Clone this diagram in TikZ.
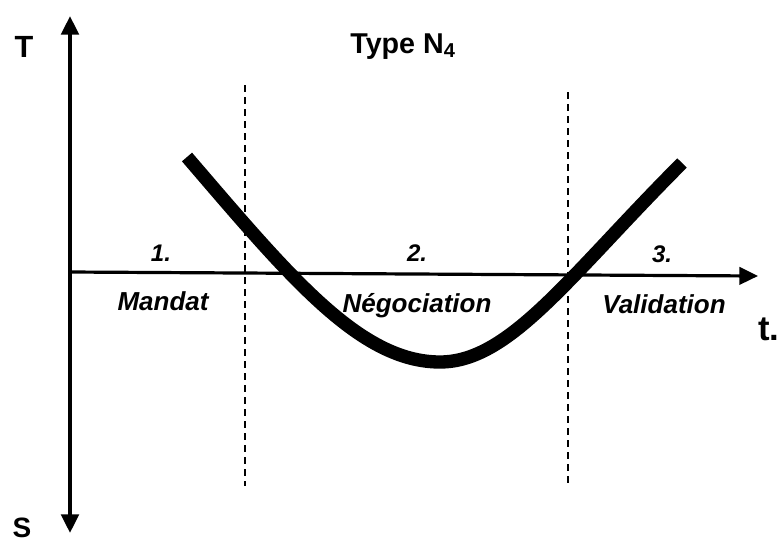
\documentclass[tikz,border=0pt]{standalone}
\usepackage{fontspec}
\setmainfont{Liberation Sans}
\usetikzlibrary{arrows.meta}
\begin{document}
\begin{tikzpicture}[x=0.75pt,y=-0.75pt,
  lbl/.style={font=\bfseries\fontsize{19}{22}\selectfont, inner sep=0pt, anchor=base},
  ilbl/.style={font=\bfseries\itshape\fontsize{19.5}{22}\selectfont, inner sep=0pt, anchor=base},
  num/.style={font=\bfseries\itshape\fontsize{18}{20}\selectfont, inner sep=0pt, anchor=base},
  axis/.style={line width=3pt, -{Triangle[length=14pt,width=13pt]}},
  divider/.style={line width=1.3pt, dash pattern=on 5pt off 4pt},
  curve/.style={line width=10pt}]
\useasboundingbox (0,0) rectangle (780,544);
% axes
\coordinate (o) at (70,272);
\coordinate (top) at (70,16);
\coordinate (bot) at (70,533);
\coordinate (right) at (758,276);
\draw[axis] (o) -- (top);
\draw[axis] (o) -- (bot);
\draw[axis, line width=2.4pt] (o) -- (right);
% dividers
\coordinate (d1a) at (245,85);
\coordinate (d1b) at (245,486);
\coordinate (d2a) at (568,92);
\coordinate (d2b) at (568,487);
\draw[divider] (d1a) -- (d1b);
\draw[divider] (d2a) -- (d2b);
% curve
\coordinate (c0) at (187,157);
\coordinate (cm) at (440,362);
\coordinate (c1) at (682,163);
\draw[curve] (c0) .. controls (290,277) and (360,362) .. (cm)
  .. controls (510,362) and (570,275) .. (c1);
% labels
\node[lbl, font=\bfseries\fontsize{23}{26}\selectfont] (T) at (24,57) {T};
\node[lbl, font=\bfseries\fontsize{21}{24}\selectfont] (S) at (22,537) {S};
\node[lbl, font=\bfseries\fontsize{21.5}{24}\selectfont] (title) at (403,53) {Type N\textsubscript{4}};
\node[lbl, font=\bfseries\fontsize{26}{30}\selectfont] (t) at (769,340) {t.};
\node[num] (n1) at (161,261) {1.};
\node[num] (n2) at (417,261) {2.};
\node[num] (n3) at (662,262) {3.};
\node[ilbl] (mandat) at (163,310) {Mandat};
\node[ilbl] (nego) at (417,312) {Négociation};
\node[ilbl] (valid) at (664,313) {Validation};
\end{tikzpicture}
\end{document}
